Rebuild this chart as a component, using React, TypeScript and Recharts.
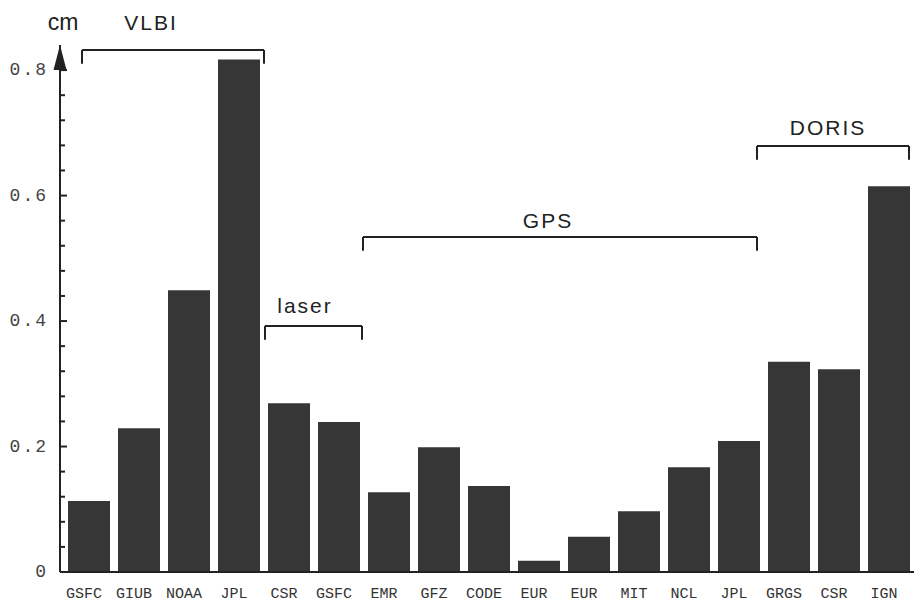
import React from "react";
import {
  BarChart,
  Bar,
  XAxis,
  YAxis,
  ReferenceLine,
  ReferenceDot,
} from "recharts";

// analysis centres, in plotting order
const centres = [
  "GSFC", "GIUB", "NOAA", "JPL", "CSR", "GSFC", "EMR", "GFZ", "CODE",
  "EUR", "EUR", "MIT", "NCL", "JPL", "GRGS", "CSR", "IGN",
];
const values = [
  0.113, 0.229, 0.449, 0.817, 0.269, 0.239, 0.127, 0.199, 0.137,
  0.018, 0.056, 0.097, 0.167, 0.209, 0.335, 0.323, 0.615,
];
const yTicks = [
  0, 0.04, 0.08, 0.12, 0.16, 0.2, 0.24, 0.28, 0.32, 0.36, 0.4,
  0.44, 0.48, 0.52, 0.56, 0.6, 0.64, 0.68, 0.72, 0.76, 0.8,
];
const yMajor = [0, 0.2, 0.4, 0.6, 0.8];

// technique groups: bracket span in category units, level in cm
const groups = [
  { name: "VLBI", from: -0.14, to: 3.5, level: 0.832, lx: 1.24, ly: 0.876 },
  { name: "laser", from: 3.52, to: 5.46, level: 0.392, lx: 4.32, ly: 0.4255 },
  { name: "GPS", from: 5.48, to: 13.36, level: 0.534, lx: 9.18, ly: 0.561 },
  { name: "DORIS", from: 13.36, to: 16.4, level: 0.679, lx: 14.78, ly: 0.709 },
];

const X_MIN = -0.58;
const X_MAX = 16.5;
const Y_MAX = 0.84;
const DROP = 0.022;

const data = centres.map((c, i) => ({ idx: i, name: c, value: values[i] }));
const xTicks = centres.map((_, i) => i);

const INK = "#222";
const MONO = "'Liberation Mono', 'Courier New', monospace";
const SANS = "'Liberation Sans', Arial, Helvetica, sans-serif";

const YTick = (props: any) => {
  const { x, y, payload } = props;
  const axisX = x + 12;
  const v = payload.value;
  const major = yMajor.some((m) => Math.abs(m - v) < 1e-6);
  return (
    <g>
      <line x1={axisX} y1={y} x2={axisX + (major ? 7 : 5)} y2={y} stroke={INK} strokeWidth={2} />
      {major && (
        <text
          x={axisX - 12}
          y={y}
          textAnchor="end"
          dominantBaseline="central"
          fontFamily={MONO}
          fontSize={18}
          letterSpacing={2}
          fill="#444"
        >
          {v === 0 ? "0" : v.toFixed(1)}
        </text>
      )}
    </g>
  );
};

const XTick = (props: any) => {
  const { x, y, payload } = props;
  return (
    <text
      x={x - 5}
      y={y}
      textAnchor="middle"
      dominantBaseline="hanging"
      fontFamily={MONO}
      fontSize={15}
      fill="#333"
    >
      {centres[payload.value]}
    </text>
  );
};

const textShape = (label: string, size: number, spacing: number) => (p: any) => (
  <text
    x={p.cx}
    y={p.cy}
    textAnchor="middle"
    dominantBaseline="central"
    fontFamily={SANS}
    fontSize={size}
    letterSpacing={spacing}
    fill={INK}
  >
    {label}
  </text>
);

const arrowShape = (p: any) => (
  <polygon
    points={`${p.cx},${p.cy} ${p.cx - 6.5},${p.cy + 25} ${p.cx + 6.5},${p.cy + 25}`}
    fill={INK}
  />
);

export default function App() {
  return (
    <div style={{ width: 915, height: 607, background: "#fff" }}>
      <style>{"body{margin:0;background:#fff}"}</style>
      <BarChart
        width={915}
        height={607}
        data={data}
        margin={{ top: 45, right: 1, bottom: 5, left: 0 }}
      >
        <XAxis
          type="number"
          dataKey="idx"
          domain={[X_MIN, X_MAX]}
          allowDataOverflow
          ticks={xTicks}
          interval={0}
          tickLine={false}
          tickSize={0}
          tickMargin={16}
          height={30}
          axisLine={{ stroke: INK, strokeWidth: 2 }}
          tick={<XTick />}
        />
        <YAxis
          type="number"
          domain={[0, Y_MAX]}
          allowDataOverflow
          ticks={yTicks}
          interval={0}
          width={60}
          tickLine={false}
          tickSize={0}
          tickMargin={12}
          axisLine={{ stroke: INK, strokeWidth: 2 }}
          tick={<YTick />}
        />
        <Bar dataKey="value" fill="#363636" barSize={42} isAnimationActive={false} />

        {groups.map((g) => [
          <ReferenceLine
            key={g.name + "h"}
            segment={[{ x: g.from, y: g.level }, { x: g.to, y: g.level }]}
            stroke={INK}
            strokeWidth={2}
            ifOverflow="visible"
          />,
          <ReferenceLine
            key={g.name + "l"}
            segment={[{ x: g.from, y: g.level }, { x: g.from, y: g.level - DROP }]}
            stroke={INK}
            strokeWidth={2}
            ifOverflow="visible"
          />,
          <ReferenceLine
            key={g.name + "r"}
            segment={[{ x: g.to, y: g.level }, { x: g.to, y: g.level - DROP }]}
            stroke={INK}
            strokeWidth={2}
            ifOverflow="visible"
          />,
          <ReferenceDot
            key={g.name + "t"}
            x={g.lx}
            y={g.ly}
            r={0}
            ifOverflow="visible"
            shape={textShape(g.name, 21, 2)}
          />,
        ])}

        <ReferenceDot x={-0.52} y={0.876} r={0} ifOverflow="visible" shape={textShape("cm", 23, 0)} />
        <ReferenceDot x={X_MIN} y={Y_MAX} r={0} ifOverflow="visible" shape={arrowShape} />
      </BarChart>
    </div>
  );
}
